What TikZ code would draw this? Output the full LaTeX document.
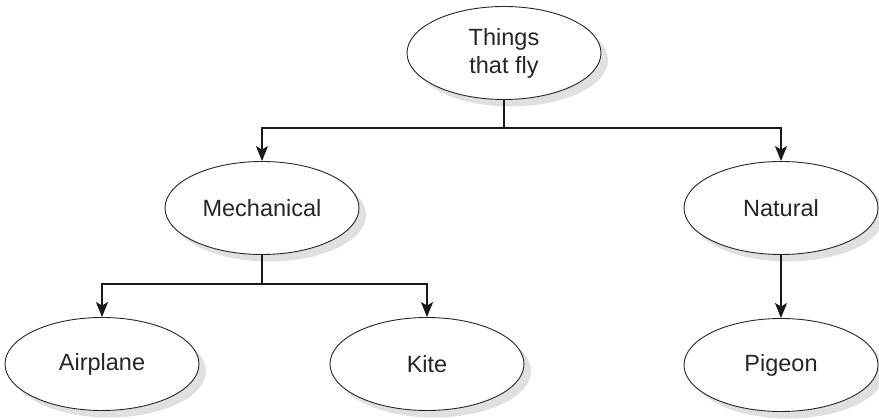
\documentclass[tikz,border=0pt]{standalone}
\usepackage{fontspec}
\setmainfont{Liberation Sans}
\usetikzlibrary{arrows.meta,shadows,shapes.geometric}
\begin{document}
\begin{tikzpicture}[x=1pt,y=-1pt,
  oval/.style={ellipse,draw=black!85,line width=0.9pt,fill=white,
    minimum width=194pt,minimum height=93pt,inner sep=0pt,align=center,
    text=black!85,font=\fontsize{23.5}{28}\selectfont,
    drop shadow={shadow xshift=7pt,shadow yshift=-7pt,fill=black!12,opacity=1}},
  conn/.style={line width=1.8pt,draw=black!90},
  arr/.style={conn,-{Stealth[length=15pt,width=12pt,inset=3.5pt]}}]
\useasboundingbox (0,0) rectangle (879,419);
\node[oval] (top) at (504,53) {Things\\that fly};
\node[oval] (mech) at (262,208) {Mechanical};
\node[oval] (nat) at (781,208) {Natural};
\node[oval] (air) at (102,364) {Airplane};
\node[oval] (kite) at (427,364) {Kite};
\node[oval] (pig) at (781,365) {Pigeon};
\coordinate (j1) at (504,128);
\coordinate (j2) at (262,284);
\draw[conn] (top.south) -- (j1);
\draw[arr] (j1) -| (mech.north);
\draw[arr] (j1) -| (nat.north);
\draw[conn] (mech.south) -- (j2);
\draw[arr] (j2) -| (air.north);
\draw[arr] (j2) -| (kite.north);
\draw[arr] (nat.south) -- (pig.north);
\end{tikzpicture}
\end{document}
